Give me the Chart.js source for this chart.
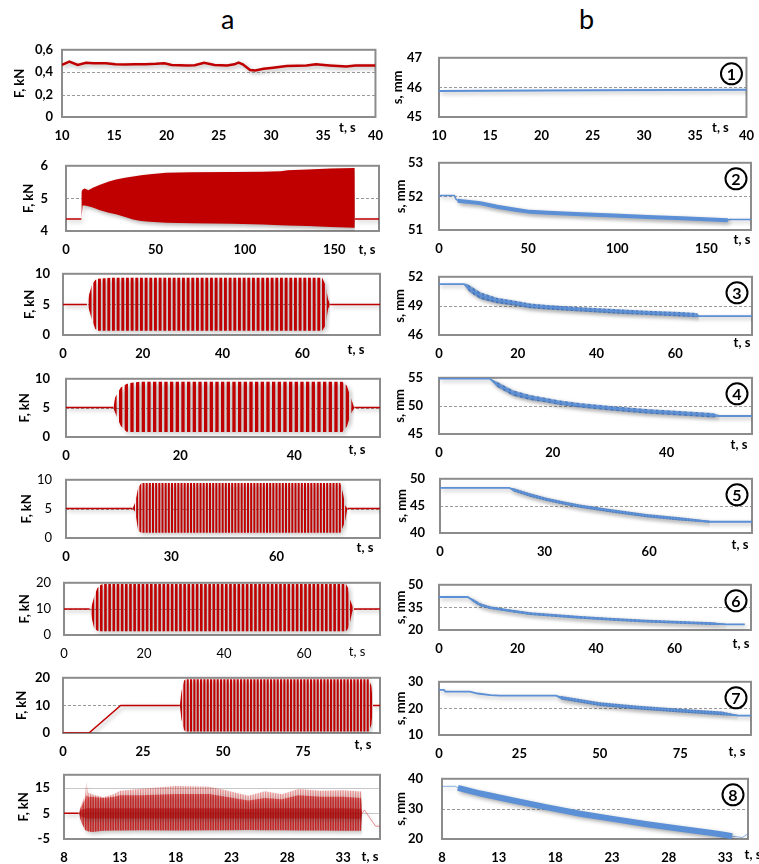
<!DOCTYPE html>
<html><head><meta charset="utf-8">
<script src="https://cdn.jsdelivr.net/npm/chart.js@4/dist/chart.umd.min.js"></script>
<style>
html,body{margin:0;padding:0;background:#fff;}
#wrap{position:relative;width:759px;height:864px;overflow:hidden;background:#fff;}
#wrap canvas{position:absolute;}
.hdr{position:absolute;font-family:Lato,sans-serif;font-size:27px;line-height:27px;color:#000;}
</style></head><body>
<div id="wrap">
<div class="hdr" style="left:221px;top:5px">a</div>
<div class="hdr" style="left:579px;top:5px">b</div>
</div>
<script>
// ---------- tick labels ----------
const t1Ticks = [10,15,20,25,30,35,40];
const t2Ticks = [0,50,100,150];
const t3Ticks = [0,20,40,60];
const t4Ticks = [0,20,40];
const t5Ticks = [0,30,60];
const t6Ticks = [0,20,40,60];
const t7Ticks = [0,25,50,75];
const t8Ticks = [8,13,18,23,28,33];

// ---------- column a : force F, kN ----------
const a1T = [10,10.7,11.5,12.3,13,14.2,15.1,16,17,18,19,19.8,20.5,22,22.7,23.6,24.6,25.8,26.5,26.9,27.3,28,28.5,29.3,30.2,31.5,33.4,34.3,35.6,37.2,38.1,40];
const a1F = [0.465,0.495,0.465,0.485,0.48,0.48,0.47,0.468,0.47,0.472,0.475,0.48,0.465,0.46,0.462,0.485,0.465,0.46,0.47,0.485,0.47,0.42,0.415,0.43,0.44,0.455,0.46,0.47,0.46,0.45,0.46,0.46];

const a2BaseT = [0,8.6,8.7,161.5,175];
const a2BaseF = [4.37,4.37,null,4.37,4.37];
const a2T  = [8.6,9.3,10.5,12.5,15,19,24,28,33,37.5,42,47,56,70,93,110,120,124,135,148,161.4,161.5];
const a2Hi = [5.2,5.27,5.3,5.25,5.33,5.42,5.52,5.58,5.63,5.67,5.71,5.74,5.79,5.8,5.81,5.82,5.83,5.86,5.89,5.92,5.93,4.37];
const a2Lo = [4.37,4.78,4.78,4.76,4.72,4.64,4.56,4.51,4.43,4.35,4.31,4.28,4.25,4.24,4.22,4.2,4.18,4.17,4.15,4.12,4.1,4.37];

const a3BaseT = [0,6.0,6.1,67,79.5];
const a3BaseF = [5,5,null,5,5];
const a3T  = [6.0,6.5,7.3,8.1,8.8,12,65,65.8,66.5,67];
const a3Hi = [5,6.5,8.3,9.0,9.2,9.35,9.35,8.2,5.8,5];
const a3Lo = [5,4.2,2.4,1.0,0.7,0.7,0.7,1.5,4.3,5];

const a4BaseT = [0,8.3,8.4,50.5,55];
const a4BaseF = [5.05,5.05,null,5.05,5.05];
const a4T  = [8.3,8.6,9.6,10.6,11.5,13,48.4,49.2,49.9,50.5];
const a4Hi = [5,6.8,8.5,9.1,9.3,9.5,9.5,8.8,6.7,5];
const a4Lo = [5,4.2,1.9,0.9,0.85,0.85,0.85,1.8,4.0,5];

const a5BaseT = [0,19.0,19.1,80.2,89.5];
const a5BaseF = [5.05,5.05,null,5.05,5.05];
const a5T  = [19.0,19.7,20.2,20.6,21.5,78.2,79.0,79.6,80.2];
const a5Hi = [5.05,6.1,7.5,8.7,9.45,9.45,7.5,5.6,5.05];
const a5Lo = [5.05,4.5,2.7,1.2,0.9,0.9,2.0,3.0,5.05];

const a6BaseT = [0,6.4,6.5,72.5,79];
const a6BaseF = [10,10,null,10,10];
const a6T  = [6.4,6.8,7.5,8.3,9.2,10,70.5,71,71.4,72,72.5];
const a6Hi = [10,10.5,14.4,17.9,19.3,19.5,19.5,18,14,11.6,10];
const a6Lo = [10,7.4,2.8,1.6,1.4,1.4,1.4,2.5,4.2,8.5,10];

const a7BaseT = [0,8.1,18,36.5,36.6,96.8,99];
const a7BaseF = [0,0,10,10,null,10,10];
const a7T  = [36.5,37,37.8,38.5,95.5,96.3,96.8];
const a7Hi = [10,15,19,19.5,19.5,17,10];
const a7Lo = [10,5,1,0.5,0.5,3,10];

const a8PreT = [8,9.3];
const a8PreF = [5,5];
const a8TailT = [34.7,34.9,35.9,36.3];
const a8TailF = [5,6.3,0,0];
const a8T  = [9.3,9.6,9.9,10.0,10.15,10.5,11.5,12.5,13,15,18,21,22.5,24.5,26,27.5,29,31,33,34.6,34.7];
const a8Hi = [5,9,12,17.5,13,12.4,11.3,12.5,13.8,14.6,15.6,15.3,14,11.8,13.6,12.4,14.5,13.8,14,13.5,5];
const a8Mid= [5,8,10.5,12,11.5,11.5,11,11.5,12,12,12.5,12.5,11.5,10,11,10.5,12,11.5,11.5,11,5];
const a8Lo = [5,1,-1.5,-1.8,-2,-2.3,-1.8,-1.7,-1.7,-1.6,-1.7,-1.6,-1.6,-1.5,-1.6,-1.6,-1.7,-1.7,-1.8,-1.8,5];
const a8CoreHi = [5,6.5,6.8,7,7,7,7,7,7,7,7,7,7,6.8,7,7,7,7,7,6.8,5];
const a8CoreLo = [5,3.5,3.2,3,3,3,3,3,3,3,3,3,3,3,3,3,3,3,3,2.8,5];

// ---------- column b : displacement s, mm ----------
const b1T = [10,25,40];
const b1S = [45.88,45.9,45.92];

const b2T = [0,8.6,9.5,10.5,23,32.6,42,51,61,79.5,98,117,136,162,163,176];
const b2S = [52.03,52.03,51.92,51.88,51.81,51.70,51.62,51.55,51.52,51.48,51.44,51.40,51.36,51.3,51.31,51.31];
const b2ThickT = [10.5,23,32.6,42,51,61,79.5,98,117,136,162];
const b2ThickS = [51.87,51.8,51.69,51.61,51.54,51.51,51.47,51.43,51.39,51.35,51.29];

const b3T = [0,6.3,7,8,10.5,14.7,19,23.2,27.5,36,44.4,52.9,61.4,66,80];
const b3S = [51.25,51.25,51.05,50.7,50.05,49.57,49.3,49.0,48.87,48.65,48.45,48.28,48.15,47.95,47.95];
const b3BT = [6.3,7,8,10.5,14.7,19,23.2,27.5,36,44.4,52.9,61.4,65.5,66];
const b3Hi = [51.25,51.3,51.05,50.4,49.85,49.55,49.25,49.1,48.87,48.67,48.5,48.37,48.27,47.98];
const b3Lo = [51.25,50.8,50.35,49.7,49.28,49.05,48.75,48.63,48.42,48.22,48.05,47.92,47.82,47.92];

const b4T = [0,8.9,10.1,13,16,18.9,21,24.7,30.6,36.4,42.3,48.1,49.3,55];
const b4S = [54.85,54.85,53.9,52.3,51.5,51.0,50.6,50.1,49.55,49.05,48.7,48.35,48.2,48.2];
const b4BT = [8.9,10.1,13,16,18.9,21,24.7,30.6,36.4,42.3,48.1,49.3];
const b4Hi = [54.85,54.35,52.8,51.95,51.4,51.0,50.5,49.95,49.45,49.1,48.75,48.25];
const b4Lo = [54.85,53.45,51.8,51.05,50.6,50.2,49.7,49.15,48.65,48.3,47.95,48.15];

const b5T = [0,19.9,21,25.8,30.6,35.3,40.1,49.7,59.2,68.8,77.4,89.5];
const b5S = [48.32,48.32,48.0,47.03,46.2,45.55,44.95,44.06,43.2,42.6,42.08,42.08];
const b5BT = [19.9,21,25.8,30.6,35.3,40.1,49.7,59.2,68.8,77.4];
const b5Hi = [48.32,48.3,47.35,46.5,45.85,45.25,44.35,43.5,42.9,42.25];
const b5Lo = [48.32,47.7,46.7,45.9,45.25,44.65,43.75,42.9,42.3,41.9];

const b6T = [0,7.3,8.8,10.5,13,17.3,23.2,27.5,36,44.4,52.9,61.4,69.8,73.2,77.9];
const b6S = [41.9,41.9,39.4,36.8,34.8,33.1,30.9,30.1,28.4,27.1,25.9,25.0,24.2,23.7,23.7];
const b6BT = [7.3,8.8,10.5,13,17.3,23.2,27.5,36,44.4,52.9,61.4,69.8,73.2];
const b6Hi = [41.9,40.4,37.8,35.7,34.0,31.8,31.0,29.3,28.0,26.8,25.9,25.1,23.9];
const b6Lo = [41.9,38.4,35.8,33.9,32.2,30.0,29.2,27.5,26.2,25.0,24.1,23.3,23.5];

const b7T = [0,1.5,2,9.6,12,16,19,36.4,38,50,62,75,88,93,97];
const b7S = [27,27,26.3,26.3,25.6,25,24.8,24.8,24,21.6,20.3,19.2,18.1,17.3,17.3];
const b7BT = [36.4,38,50,62,75,88,93];
const b7Hi = [24.8,24.7,22.3,21.0,19.9,18.8,17.5];
const b7Lo = [24.8,23.3,20.9,19.6,18.5,17.4,17.1];

const b8T = [8,9.2,9.4,11.4,14.4,17.3,20.2,23.2,26.1,29,32,33,33.6,34.5,35.05];
const b8S = [37.5,37.5,37.0,35.1,32.7,30.5,28.4,26.6,24.9,23.4,21.9,21.3,20.9,20.5,21.9];
const b8ThickT = [9.4,11.4,14.4,17.3,20.2,23.2,26.1,29,32,33,33.6];
const b8ThickS = [37.0,35.1,32.7,30.5,28.4,26.6,24.9,23.4,21.9,21.3,20.9];

// ---------- drawing helpers ----------
const RED = '#c00000', BLUE = '#5b8fd6', BLUE_D = '#4a7fca';
const wrap = document.getElementById('wrap');
const pts = (T, V) => T.map((t, i) => ({x: t, y: V[i]}));
function line(T, V, color, w) {
  return {data: pts(T, V), borderColor: color, borderWidth: w, pointRadius: 0, fill: false, tension: 0, spanGaps: false};
}
function band(T, H, L, bg) {
  return [
    {data: pts(T, H), borderColor: 'rgba(0,0,0,0)', borderWidth: 0, backgroundColor: bg, pointRadius: 0, fill: '+1', tension: 0},
    {data: pts(T, L), borderColor: 'rgba(0,0,0,0)', borderWidth: 0, pointRadius: 0, fill: false, tension: 0}
  ];
}
// vertical hatch texture for the oscillation bands (style only)
function stripes(ctx, color, period, w, bg) {
  const n = 6, W = Math.max(1, Math.round(period * n));
  const c = document.createElement('canvas'); c.width = W; c.height = 2;
  const g = c.getContext('2d');
  if (bg) { g.fillStyle = bg; g.fillRect(0, 0, W, 2); }
  g.fillStyle = color;
  for (let k = 0; k < n; k++) g.fillRect(k * W / n, 0, w, 2);
  return ctx.createPattern(c, 'repeat');
}

function panel(p) {
  const cl = p.col === 'a' ? 0 : 384;
  const [bl, bt, br, bb] = p.box;
  const ct = bt - 10, cr = br + 14, cb = bb + 34;
  const cv = document.createElement('canvas');
  cv.width = cr - cl; cv.height = cb - ct;
  cv.style.left = cl + 'px'; cv.style.top = ct + 'px';
  cv.style.width = (cr - cl) + 'px'; cv.style.height = (cb - ct) + 'px';
  wrap.appendChild(cv);
  const ctx = cv.getContext('2d');
  const datasets = p.datasets(ctx);
  const wt = p.weight || 'bold';
  const FS = 13;
  const fmt = v => String(v).replace('.', ',');
  const decor = {
    id: 'decor',
    beforeDatasetsDraw(chart) {
      const c = chart.ctx, a = chart.chartArea, y = chart.scales.y;
      c.save();
      c.lineWidth = 1;
      c.strokeStyle = p.gridSolid ? '#c8c8c8' : '#9a9a9a';
      c.setLineDash(p.gridSolid ? [] : [3, 2]);
      for (const g of p.grid) {
        const py = Math.round(y.getPixelForValue(g)) + 0.5;
        c.beginPath(); c.moveTo(a.left, py); c.lineTo(a.right, py); c.stroke();
      }
      c.setLineDash([]);
      c.strokeStyle = '#8c8c8c'; c.lineWidth = 2;
      c.strokeRect(a.left, a.top, a.right - a.left, a.bottom - a.top);
      c.restore();
      c.save();
      c.shadowColor = 'rgba(0,0,0,0.33)'; c.shadowBlur = 4; c.shadowOffsetX = 2; c.shadowOffsetY = 2;
    },
    afterDatasetsDraw(chart) {
      chart.ctx.restore();
    },
    afterDraw(chart) {
      const c = chart.ctx, a = chart.chartArea;
      c.save();
      c.fillStyle = '#000';
      c.font = wt + ' ' + FS + 'px Lato';
      c.textAlign = 'center'; c.textBaseline = 'middle';
      c.fillText('t, s', a.right + p.ts[0], a.bottom + p.ts[1]);
      c.translate(p.yTitleX - cl, (a.top + a.bottom) / 2);
      c.rotate(-Math.PI / 2);
      c.font = (p.titleWeight || wt) + ' ' + FS + 'px Lato';
      c.fillText(p.yTitle, 0, 0);
      c.restore();
      if (p.num) {
        c.save();
        const cx = a.right - 15, cy = a.top + 16;
        c.beginPath(); c.arc(cx, cy, 10.5, 0, Math.PI * 2);
        c.fillStyle = '#fff'; c.fill();
        c.lineWidth = 2; c.strokeStyle = '#000'; c.stroke();
        c.fillStyle = '#000'; c.font = 'bold 16px Lato';
        c.textAlign = 'center'; c.textBaseline = 'middle';
        c.fillText(String(p.num), cx, cy + 1);
        c.restore();
      }
    }
  };
  new Chart(cv, {
    type: 'line',
    data: {datasets},
    options: {
      responsive: false, animation: false, events: [],
      layout: {padding: {left: 0, top: 10, right: cr - br, bottom: 0}},
      plugins: {legend: {display: false}, tooltip: {enabled: false}},
      scales: {
        x: {
          type: 'linear', min: p.x[0], max: p.x[1],
          grid: {display: false, drawTicks: false}, border: {display: false},
          ticks: {autoSkip: false, maxRotation: 0, minRotation: 0, padding: 11, font: {family: 'Lato', size: FS, weight: wt}, color: '#000', callback: fmt},
          afterBuildTicks: s => { s.ticks = p.xt.map(v => ({value: v})); },
          afterFit: s => { s.height = 34; }
        },
        y: {
          type: 'linear', min: p.y[0], max: p.y[1],
          grid: {display: false, drawTicks: false}, border: {display: false},
          ticks: {autoSkip: false, padding: p.yPad, font: {family: 'Lato', size: FS, weight: p.yWeight || wt}, color: '#000', callback: fmt},
          afterBuildTicks: s => { s.ticks = p.yt.map(v => ({value: v})); },
          afterFit: s => { s.width = bl - cl; }
        }
      }
    },
    plugins: [decor]
  });
}

const BAND_BG = 'rgba(91,143,214,0.72)';

// ---------- panels ----------
panel({col:'a', box:[62,43,380,117], x:[10,40], xt:t1Ticks, y:[0,0.6], yt:[0,0.2,0.4,0.6], grid:[0.2,0.4], yPad:9, yTitle:'F, kN', yTitleX:20, ts:[-28,11],
  datasets: ctx => [line(a1T, a1F, RED, 2.5)]});
panel({col:'b', box:[439,43,751,117], x:[10,40], xt:t1Ticks, y:[45,47], yt:[45,46,47], grid:[46], yPad:17, yTitle:'s, mm', yTitleX:398, ts:[-26,11], num:1,
  datasets: ctx => [line(b1T, b1S, BLUE, 2)]});

panel({col:'a', box:[66,150,379,231], x:[0,175], xt:t2Ticks, y:[4,6], yt:[4,5,6], grid:[5], yPad:18, yTitle:'F, kN', yTitleX:29, ts:[-12,19],
  datasets: ctx => [line(a2BaseT, a2BaseF, RED, 1.5), ...band(a2T, a2Hi, a2Lo, RED)]});
panel({col:'b', box:[439,149,751,230], x:[0,175], xt:t2Ticks, y:[51,53], yt:[51,52,53], grid:[52], yPad:16, yTitle:'s, mm', yTitleX:401, ts:[-9,10], num:2,
  datasets: ctx => [line(b2ThickT, b2ThickS, BLUE, 4), line(b2T, b2S, BLUE, 1.5)]});

panel({col:'a', box:[63,263,380,335], x:[0,79.5], xt:t3Ticks, y:[0,10], yt:[0,5,10], grid:[5], yPad:13, yTitle:'F, kN', yTitleX:30, ts:[-24,15],
  datasets: ctx => [line(a3BaseT, a3BaseF, RED, 1.5), ...band(a3T, a3Hi, a3Lo, stripes(ctx, RED, 4.67, 2.9))]});
panel({col:'b', box:[439,263,752,335], x:[0,79.5], xt:t3Ticks, y:[46,52], yt:[46,49,52], grid:[49], yPad:16, yTitle:'s, mm', yTitleX:400, ts:[-10,8], num:3,
  datasets: ctx => [line(b3T, b3S, BLUE, 1.8), ...band(b3BT, b3Hi, b3Lo, stripes(ctx, BLUE_D, 4.67, 2.2, BAND_BG))]});

panel({col:'a', box:[66,365,380,437], x:[0,55], xt:t4Ticks, y:[0,10], yt:[0,5,10], grid:[5], yPad:16, yTitle:'F, kN', yTitleX:25, ts:[-23,13],
  datasets: ctx => [line(a4BaseT, a4BaseF, RED, 1.5), ...band(a4T, a4Hi, a4Lo, stripes(ctx, RED, 5.7, 3.3))]});
panel({col:'b', box:[439,364,752,434], x:[0,55], xt:t4Ticks, y:[45,55], yt:[45,50,55], grid:[50], yPad:16, yTitle:'s, mm', yTitleX:400, ts:[-13,11], num:4,
  datasets: ctx => [line(b4T, b4S, BLUE, 1.8), ...band(b4BT, b4Hi, b4Lo, stripes(ctx, BLUE_D, 5.7, 2.4, BAND_BG))]});

panel({col:'a', box:[66,468,380,538], x:[0,89.5], xt:t5Ticks, y:[0,10], yt:[0,5,10], grid:[5], yPad:14, yTitle:'F, kN', yTitleX:27, ts:[-15,10], yWeight:'normal',
  datasets: ctx => [line(a5BaseT, a5BaseF, RED, 1.5), ...band(a5T, a5Hi, a5Lo, stripes(ctx, RED, 3.2, 2.0))]});
panel({col:'b', box:[440,466,752,533], x:[0,89.5], xt:t5Ticks, y:[40,50], yt:[40,45,50], grid:[45], yPad:15, yTitle:'s, mm', yTitleX:402, ts:[-12,12], num:5,
  datasets: ctx => [line(b5T, b5S, BLUE, 1.8), ...band(b5BT, b5Hi, b5Lo, stripes(ctx, BLUE_D, 3.2, 1.8, BAND_BG))]});

panel({col:'a', box:[64,572,380,635], x:[0,79], xt:t6Ticks, y:[0,20], yt:[0,10,20], grid:[10], yPad:13, yTitle:'F, kN', yTitleX:25, ts:[-23,17], weight:'normal', titleWeight:'bold',
  datasets: ctx => [line(a6BaseT, a6BaseF, RED, 1.5), ...band(a6T, a6Hi, a6Lo, stripes(ctx, RED, 4.2, 2.6))]});
panel({col:'b', box:[439,571,751,630], x:[0,79.5], xt:t6Ticks, y:[20,50], yt:[20,35,50], grid:[35], yPad:16, yTitle:'s, mm', yTitleX:401, ts:[-10,14], num:6,
  datasets: ctx => [line(b6T, b6S, BLUE, 1.8), ...band(b6BT, b6Hi, b6Lo, stripes(ctx, BLUE_D, 4.2, 2.2, BAND_BG))]});

panel({col:'a', box:[63,667,380,733], x:[0,99], xt:t7Ticks, y:[0,20], yt:[0,10,20], grid:[10], yPad:13, yTitle:'F, kN', yTitleX:22, ts:[-17,12],
  datasets: ctx => [line(a7BaseT, a7BaseF, RED, 1.5), ...band(a7T, a7Hi, a7Lo, stripes(ctx, RED, 3.3, 2.1))]});
panel({col:'b', box:[439,668,751,735], x:[0,97], xt:t7Ticks, y:[10,30], yt:[10,20,30], grid:[20], yPad:16, yTitle:'s, mm', yTitleX:401, ts:[-14,17], num:7,
  datasets: ctx => [line(b7T, b7S, BLUE, 1.8), ...band(b7BT, b7Hi, b7Lo, stripes(ctx, BLUE_D, 3.2, 1.8, BAND_BG))]});

panel({col:'a', box:[64,763,380,839], x:[8,36.3], xt:t8Ticks, y:[-5,20], yt:[-5,5,15], grid:[5,15], gridSolid:true, yPad:14, yTitle:'F, kN', yTitleX:24, ts:[-10,18],
  datasets: ctx => [
    line(a8PreT, a8PreF, RED, 1.5),
    line(a8TailT, a8TailF, 'rgba(215,70,70,0.6)', 1),
    ...band(a8T, a8CoreHi, a8CoreLo, 'rgba(180,0,0,0.5)'),
    ...band(a8T, a8Mid, a8Lo, stripes(ctx, 'rgba(200,0,0,0.5)', 2.5, 1.5, 'rgba(200,0,0,0.3)')),
    ...band(a8T, a8Hi, a8Lo, stripes(ctx, 'rgba(210,30,30,0.4)', 2.5, 1.2, 'rgba(220,80,80,0.15)'))
  ]});
panel({col:'b', box:[442,762,748,839], x:[8,35], xt:t8Ticks, y:[20,40], yt:[20,30,40], grid:[30], yPad:19, yTitle:'s, mm', yTitleX:401, ts:[5,16], num:8,
  datasets: ctx => [line(b8ThickT, b8ThickS, BLUE, 6), line(b8T, b8S, 'rgba(91,143,214,0.7)', 1)]});
</script>
</body></html>
